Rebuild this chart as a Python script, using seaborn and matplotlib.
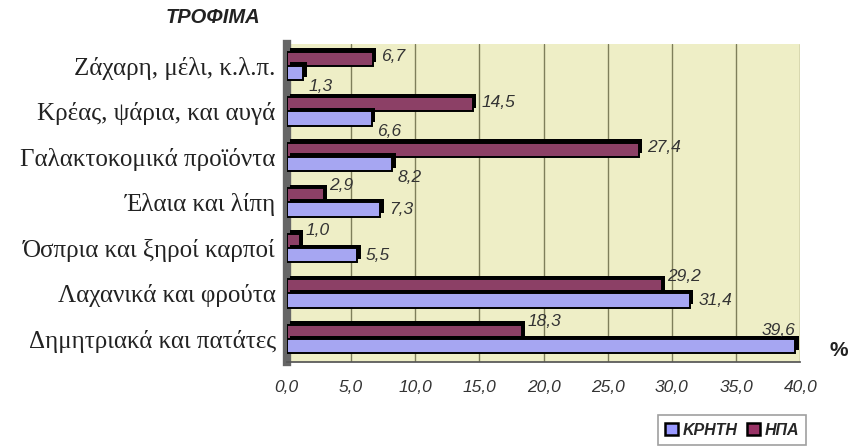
import matplotlib
matplotlib.use("Agg")
import matplotlib.pyplot as plt
import matplotlib.patheffects as pe
import matplotlib.transforms as mtransforms
from matplotlib.patches import Patch
import seaborn as sns
import pandas as pd

categories = ["Ζάχαρη, μέλι, κ.λ.π.", "Κρέας, ψάρια, και αυγά", "Γαλακτοκομικά προϊόντα",
              "Έλαια και λίπη", "Όσπρια και ξηροί καρποί", "Λαχανικά και φρούτα",
              "Δημητριακά και πατάτες"]
krhth = [1.3, 6.6, 8.2, 7.3, 5.5, 31.4, 39.6]
hpa = [6.7, 14.5, 27.4, 2.9, 1.0, 29.2, 18.3]
series_names = ["ΚΡΗΤΗ", "ΗΠΑ"]
xticks = [0, 5, 10, 15, 20, 25, 30, 35, 40]

df = pd.DataFrame({
    "cat": categories * 2,
    "val": hpa + krhth,
    "series": ["ΗΠΑ"] * 7 + ["ΚΡΗΤΗ"] * 7,
})

sns.set_theme(style="white")
plt.rcParams["font.family"] = ["Liberation Sans", "DejaVu Sans"]

colors = {"ΚΡΗΤΗ": "#9999FF", "ΗΠΑ": "#993366"}
XMAX = 40

fig = plt.figure(figsize=(8.56, 4.48), dpi=100)
ax = fig.add_axes([0.335, 0.192, 0.600, 0.710])
ax.set_facecolor("#EEEEC6")

sns.barplot(data=df, y="cat", x="val", hue="series", hue_order=["ΗΠΑ", "ΚΡΗΤΗ"],
            palette=colors, orient="h", width=0.62, edgecolor="black", linewidth=1.4,
            legend=False, ax=ax, zorder=3)

for p in ax.patches:
    p.set_path_effects([pe.SimplePatchShadow(offset=(2.5, 2.5), shadow_rgbFace="black", alpha=1.0),
                        pe.Normal()])

ax.set_xlim(0, XMAX)
ax.set_ylim(6.505, -0.484)
ax.set_xticks(xticks)
ax.set_xticklabels([f"{t:.1f}".replace(".", ",") for t in xticks], fontstyle="italic",
                   fontsize=12.5, color="#333333")
ax.grid(axis="x", color="#7E7E5A", linewidth=1.0, zorder=0)
ax.set_axisbelow(True)
ax.set_xlabel("")
ax.set_ylabel("")
ax.set_yticks(range(len(categories)))
ax.set_yticklabels(categories, fontfamily=["Liberation Serif", "DejaVu Serif"], fontsize=18,
                   color="#222222")
shift = mtransforms.ScaledTranslation(0, -6 / 100, fig.dpi_scale_trans)
for lab in ax.get_yticklabels():
    lab.set_transform(lab.get_transform() + shift)
ax.tick_params(axis="y", length=5, color="#555555", pad=3)
ax.tick_params(axis="x", length=6, color="#555555", pad=7)
for s in ["top", "right"]:
    ax.spines[s].set_visible(False)
ax.spines["left"].set_color("#666666")
ax.spines["left"].set_linewidth(6)
ax.spines["bottom"].set_color("#555555")

lab_kw = dict(textcoords="offset points", fontsize=12.5, fontstyle="italic", color="#333333")


def fmt(v):
    return f"{v:.1f}".replace(".", ",")


cont_hpa, cont_kr = ax.containers[0], ax.containers[1]
for bar_h, bar_k, vh, vk in zip(cont_hpa, cont_kr, hpa, krhth):
    # ΗΠΑ (upper bar of group)
    yc = bar_h.get_y() + bar_h.get_height() / 2
    if vk > vh:
        ax.annotate(fmt(vh), (vh, bar_h.get_y()), xytext=(4, -3), va="bottom", ha="left", **lab_kw)
    else:
        ax.annotate(fmt(vh), (vh, yc), xytext=(6, 1.5), va="center", ha="left", **lab_kw)
    # ΚΡΗΤΗ (lower bar of group)
    yc = bar_k.get_y() + bar_k.get_height() / 2
    if vk > XMAX - 4:
        ax.annotate(fmt(vk), (vk, bar_k.get_y()), xytext=(0, 1), va="bottom", ha="right", **lab_kw)
    elif vh > vk:
        ax.annotate(fmt(vk), (vk, bar_k.get_y() + bar_k.get_height()), xytext=(4, 1),
                    va="top", ha="left", **lab_kw)
    else:
        ax.annotate(fmt(vk), (vk, yc), xytext=(6, 0), va="center", ha="left", **lab_kw)

fig.text(0.193, 0.962, "ΤΡΟΦΙΜΑ", fontsize=14.5, fontweight="bold", fontstyle="italic",
         color="#222222", ha="left", va="center")
fig.text(0.98, 0.218, "%", fontsize=15, fontweight="bold", color="#222222",
         ha="center", va="center")

handles = [Patch(facecolor=colors[n], edgecolor="black", linewidth=1.8) for n in series_names]
leg = fig.legend(handles, series_names, loc="center", bbox_to_anchor=(0.855, 0.04),
                 ncol=2, frameon=True, fancybox=False, edgecolor="#888888",
                 prop={"size": 11.5, "weight": "bold", "style": "italic"},
                 handlelength=0.8, handleheight=0.8, handletextpad=0.3, columnspacing=0.6,
                 borderpad=0.45, borderaxespad=0)
leg.get_frame().set_linewidth(1.2)

fig.savefig("out.png", dpi=100)
